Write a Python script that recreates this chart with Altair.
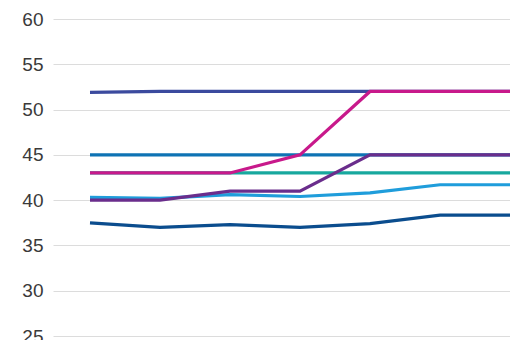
import altair as alt
import pandas as pd

periods = [0, 1, 2, 3, 4, 5, 6]
series_names = ["Indigo", "Blue", "Teal", "Light blue", "Dark blue", "Purple", "Magenta"]
indigo = [51.9, 52.0, 52.0, 52.0, 52.0, 52.0, 52.0]
blue = [45, 45, 45, 45, 45, 45, 45]
teal = [43, 43, 43, 43, 43, 43, 43]
light_blue = [40.3, 40.2, 40.6, 40.4, 40.8, 41.7, 41.7]
dark_blue = [37.5, 37.0, 37.3, 37.0, 37.4, 38.35, 38.35]
purple = [40, 40, 41, 41, 45, 45, 45]
magenta = [43, 43, 43, 45, 52, 52, 52]
colors = ["#3b4a9e", "#0e73b4", "#17a89e", "#1f9ddb", "#0b4d8e", "#6a2d8c", "#c8198b"]
y_ticks = [25, 30, 35, 40, 45, 50, 55, 60]

values = [indigo, blue, teal, light_blue, dark_blue, purple, magenta]
rows = []
for order, (name, vals) in enumerate(zip(series_names, values)):
    for p, v in zip(periods, vals):
        rows.append({"period": p, "value": v, "series": name, "order": order})
df = pd.DataFrame(rows)

chart = alt.Chart(df).mark_line(strokeWidth=3.2, clip=True).encode(
    x=alt.X("period:Q", scale=alt.Scale(domain=[-0.5286, 6], nice=False, zero=False), axis=None),
    y=alt.Y("value:Q", scale=alt.Scale(domain=[25, 60], nice=False, zero=False),
            axis=alt.Axis(values=y_ticks, title=None, domain=False, ticks=False,
                          labelPadding=10, labelFontSize=19, labelColor="#3a3a3a",
                          labelFont="Liberation Sans", gridColor="#dcdcdc", gridWidth=1)),
    color=alt.Color("series:N", scale=alt.Scale(domain=series_names, range=colors), legend=None),
    order=alt.Order("order:Q"),
    detail="series:N",
).properties(
    width=457, height=317,
    autosize=alt.AutoSizeParams(type="none"),
    padding={"left": 53, "top": 19, "right": 0, "bottom": 4},
).configure_view(stroke=None)

chart.save("out.html", embed_options={"renderer": "svg", "actions": False})
